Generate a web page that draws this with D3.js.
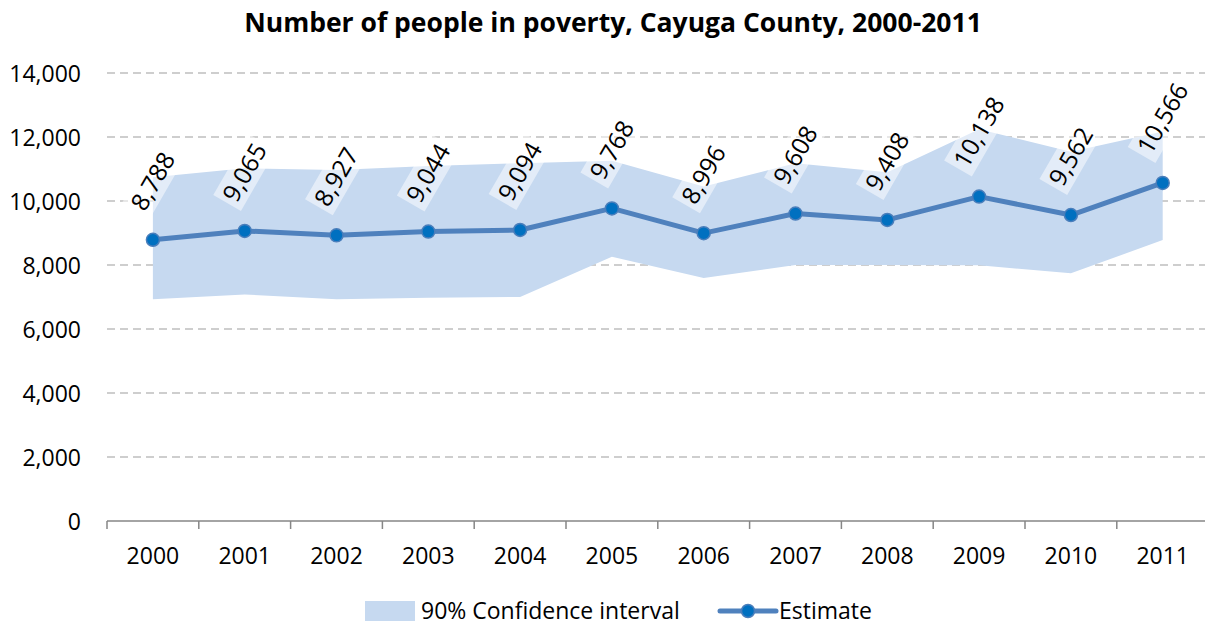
<!DOCTYPE html>
<html>
<head>
<meta charset="utf-8">
<script src="https://cdn.jsdelivr.net/npm/d3@7"></script>
<style>
  html, body { margin: 0; padding: 0; background: #fff; }
  #content { width: 1205px; height: 627px; overflow: hidden; }
  text { font-family: "Open Sans", "Noto Sans", sans-serif; fill: #000; }
</style>
</head>
<body>
<div id="content"></div>
<script>
var years = ['2000', '2001', '2002', '2003', '2004', '2005',
             '2006', '2007', '2008', '2009', '2010', '2011'];
var estimate = [8788, 9065, 8927, 9044, 9094, 9768, 8996, 9608, 9408, 10138, 9562, 10566];
var ciUpper = [10740, 11020, 10970, 11090, 11180, 11260, 10450, 11180, 10900, 12240, 11540, 12170];
var ciLower = [6930, 7080, 6930, 6980, 7000, 8260, 7590, 8000, 8000, 7990, 7740, 8780];
var yTicks = [0, 2000, 4000, 6000, 8000, 10000, 12000, 14000];

var width = 1205, height = 627;
var svg = d3.select('div#content').append('svg')
  .attr('width', width)
  .attr('height', height);

var x = d3.scaleBand().domain(years).range([107, 1208.6]);
var y = d3.scaleLinear().domain([0, 14000]).range([521, 73]);
var cx = function(d){ return x(d) + x.bandwidth() / 2; };

// title
svg.append('text')
  .attr('x', 613)
  .attr('y', 32)
  .attr('text-anchor', 'middle')
  .attr('font-size', '26.5px')
  .attr('font-weight', 'bold')
  .text('Number of people in poverty, Cayuga County, 2000-2011');

// gridlines
svg.append('g')
  .selectAll('line')
  .data(yTicks.filter(function(d){ return d > 0; }))
  .enter()
  .append('line')
  .attr('x1', 107)
  .attr('x2', width)
  .attr('y1', function(d){ return y(d); })
  .attr('y2', function(d){ return y(d); })
  .attr('stroke', '#bfbfbf')
  .attr('stroke-width', 1.5)
  .attr('stroke-dasharray', '8,5');

// y axis labels
var yAxis = svg.append('g')
  .attr('transform', 'translate(81,0)')
  .call(d3.axisLeft(y).tickValues(yTicks).tickFormat(d3.format(',')).tickSize(0).tickPadding(0));
yAxis.select('.domain').remove();
yAxis.selectAll('text')
  .attr('font-size', '23px')
  .attr('font-family', '"Open Sans", sans-serif')
  .attr('fill', '#000')
  .attr('dy', '0.35em');

// confidence band
var area = d3.area()
  .x(function(d, i){ return cx(years[i]); })
  .y0(function(d, i){ return y(ciLower[i]); })
  .y1(function(d, i){ return y(ciUpper[i]); });
svg.append('path')
  .attr('d', area(years))
  .attr('fill', '#c6d9f0');

// x axis
svg.append('line')
  .attr('x1', 107)
  .attr('x2', width)
  .attr('y1', y(0))
  .attr('y2', y(0))
  .attr('stroke', '#868686')
  .attr('stroke-width', 1.5);
var bounds = years.map(function(d){ return x(d); }).concat([x.range()[1]]);
svg.append('g')
  .selectAll('line')
  .data(bounds)
  .enter()
  .append('line')
  .attr('x1', function(d){ return d; })
  .attr('x2', function(d){ return d; })
  .attr('y1', y(0))
  .attr('y2', y(0) + 8)
  .attr('stroke', '#868686')
  .attr('stroke-width', 1.5);
svg.append('g')
  .selectAll('text')
  .data(years)
  .enter()
  .append('text')
  .attr('x', function(d){ return cx(d); })
  .attr('y', 564)
  .attr('text-anchor', 'middle')
  .attr('font-size', '23px')
  .text(function(d){ return d; });

// estimate line
var line = d3.line()
  .x(function(d, i){ return cx(years[i]); })
  .y(function(d){ return y(d); });
svg.append('path')
  .attr('d', line(estimate))
  .attr('fill', 'none')
  .attr('stroke', '#4f81bd')
  .attr('stroke-width', 5)
  .attr('stroke-linejoin', 'round');
svg.append('g')
  .selectAll('circle')
  .data(estimate)
  .enter()
  .append('circle')
  .attr('cx', function(d, i){ return cx(years[i]); })
  .attr('cy', function(d){ return y(d); })
  .attr('r', 6.5)
  .attr('fill', '#0070c0')
  .attr('stroke', '#4a7ebb')
  .attr('stroke-width', 1.5);

// data labels, rotated, with a half-white box
var fmt = d3.format(',');
var angle = 60 * Math.PI / 180;
estimate.forEach(function(v, i){
  var g = svg.append('g');
  var t = g.append('text')
    .attr('text-anchor', 'middle')
    .attr('dy', '0.35em')
    .attr('font-size', '24.5px')
    .text(fmt(v));
  var bb = t.node().getBBox();
  var bw = bb.width + 8, bh = 32;
  g.insert('rect', 'text')
    .attr('x', -bw / 2)
    .attr('y', -bh / 2)
    .attr('width', bw)
    .attr('height', bh)
    .attr('fill', '#fff')
    .attr('fill-opacity', 0.5);
  var half = (bw * Math.sin(angle) + bh * Math.cos(angle)) / 2;
  g.attr('transform', 'translate(' + cx(years[i]) + ',' + (y(v) - 20 - half) + ') rotate(-60)');
});

// legend
svg.append('rect')
  .attr('x', 365)
  .attr('y', 601)
  .attr('width', 50)
  .attr('height', 20)
  .attr('fill', '#c6d9f0');
svg.append('text')
  .attr('x', 421)
  .attr('y', 619)
  .attr('font-size', '23px')
  .text('90% Confidence interval');
svg.append('line')
  .attr('x1', 720)
  .attr('x2', 776)
  .attr('y1', 611)
  .attr('y2', 611)
  .attr('stroke', '#4f81bd')
  .attr('stroke-width', 5)
  .attr('stroke-linecap', 'round');
svg.append('circle')
  .attr('cx', 748)
  .attr('cy', 611)
  .attr('r', 6.5)
  .attr('fill', '#0070c0')
  .attr('stroke', '#4a7ebb')
  .attr('stroke-width', 1.5);
svg.append('text')
  .attr('x', 779)
  .attr('y', 619)
  .attr('font-size', '23px')
  .text('Estimate');
</script>
</body>
</html>
